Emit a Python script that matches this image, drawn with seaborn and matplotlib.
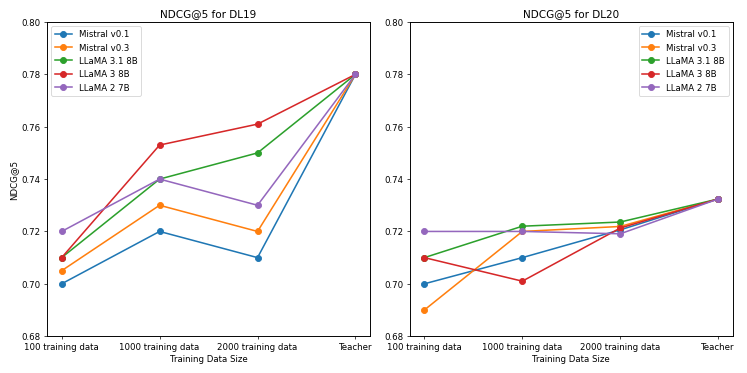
import pandas as pd
import matplotlib
matplotlib.use('Agg')
import matplotlib.pyplot as plt
import seaborn as sns

# Data
sizes = ['100 training data', '1000 training data', '2000 training data', 'Teacher']
models = ['Mistral v0.1', 'Mistral v0.3', 'LLaMA 3.1 8B', 'LLaMA 3 8B', 'LLaMA 2 7B']

dl19_mistral_v01 = [0.700, 0.720, 0.710, 0.780]
dl19_mistral_v03 = [0.705, 0.730, 0.720, 0.780]
dl19_llama31_8b = [0.710, 0.740, 0.750, 0.780]
dl19_llama3_8b = [0.710, 0.753, 0.761, 0.780]
dl19_llama2_7b = [0.720, 0.740, 0.730, 0.780]

dl20_mistral_v01 = [0.700, 0.710, 0.7206, 0.7324]
dl20_mistral_v03 = [0.690, 0.720, 0.7219, 0.7324]
dl20_llama31_8b = [0.710, 0.722, 0.7236, 0.7324]
dl20_llama3_8b = [0.710, 0.701, 0.7213, 0.7324]
dl20_llama2_7b = [0.720, 0.720, 0.7191, 0.7324]

dl19 = [dl19_mistral_v01, dl19_mistral_v03, dl19_llama31_8b, dl19_llama3_8b, dl19_llama2_7b]
dl20 = [dl20_mistral_v01, dl20_mistral_v03, dl20_llama31_8b, dl20_llama3_8b, dl20_llama2_7b]

colors = sns.color_palette('tab10', len(models))
plt.rcParams['axes.linewidth'] = 1.1


def plot_panel(ax, series, title, legend_loc, ylabel=None):
    for name, vals, c in zip(models, series, colors):
        df = pd.DataFrame({'Training Data Size': sizes, 'NDCG@5': vals})
        sns.lineplot(data=df, x='Training Data Size', y='NDCG@5', ax=ax, color=c,
                     marker='o', markersize=7, markeredgecolor=c, markeredgewidth=1,
                     linewidth=1.8, label=name)
    ax.set_ylim(0.68, 0.80)
    ax.set_title(title)
    ax.set_xlabel('Training Data Size')
    ax.set_ylabel(ylabel if ylabel else '')
    ax.legend(loc=legend_loc)


fig, axes = plt.subplots(1, 2, figsize=(12, 6), dpi=62.25)
plot_panel(axes[0], dl19, 'NDCG@5 for DL19', 'upper left', 'NDCG@5')
plot_panel(axes[1], dl20, 'NDCG@5 for DL20', 'upper right')
plt.tight_layout()
plt.savefig('out.png')
